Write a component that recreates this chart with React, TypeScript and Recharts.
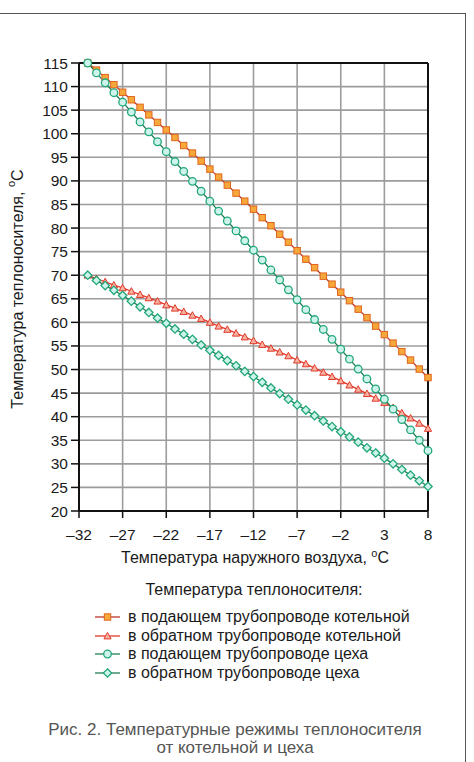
import React from 'react';
import { LineChart, Line, XAxis, YAxis, CartesianGrid, ReferenceLine, Legend } from 'recharts';

const outdoorTemps = [-31, -30, -29, -28, -27, -26, -25, -24, -23, -22, -21, -20, -19, -18, -17, -16, -15, -14, -13, -12, -11, -10, -9, -8, -7, -6, -5, -4, -3, -2, -1, 0, 1, 2, 3, 4, 5, 6, 7, 8];
const supplyBoiler = [115.0, 113.5, 111.9, 110.4, 108.8, 107.2, 105.6, 104.0, 102.4, 100.8, 99.2, 97.5, 95.9, 94.2, 92.5, 90.8, 89.1, 87.4, 85.7, 84.0, 82.2, 80.5, 78.7, 77.0, 75.2, 73.4, 71.6, 69.8, 68.1, 66.4, 64.6, 62.8, 61.0, 59.2, 57.4, 55.6, 53.8, 52.0, 50.1, 48.3];
const returnBoiler = [70.0, 69.3, 68.6, 67.9, 67.3, 66.6, 65.9, 65.2, 64.5, 63.7, 63.0, 62.3, 61.5, 60.8, 60.0, 59.2, 58.5, 57.7, 56.9, 56.1, 55.3, 54.5, 53.7, 52.9, 52.0, 51.2, 50.3, 49.4, 48.5, 47.6, 46.7, 45.8, 44.9, 43.9, 43.0, 41.9, 40.8, 39.7, 38.6, 37.5];
const supplyShop = [115.0, 112.9, 110.8, 108.7, 106.7, 104.6, 102.5, 100.4, 98.3, 96.2, 94.1, 92.0, 89.9, 87.8, 85.7, 83.6, 81.5, 79.4, 77.3, 75.3, 73.2, 71.1, 69.0, 66.9, 64.8, 62.7, 60.6, 58.5, 56.4, 54.3, 52.2, 50.1, 48.0, 45.9, 43.7, 41.6, 39.4, 37.2, 35.0, 32.8];
const returnShop = [70.0, 68.9, 67.8, 66.8, 65.7, 64.5, 63.3, 62.1, 60.9, 59.8, 58.6, 57.5, 56.4, 55.2, 54.1, 53.0, 51.9, 50.8, 49.6, 48.5, 47.3, 46.1, 44.9, 43.7, 42.5, 41.4, 40.2, 39.1, 37.9, 36.8, 35.7, 34.6, 33.4, 32.3, 31.2, 30.0, 28.8, 27.6, 26.4, 25.2];

const xTicks = [-32, -27, -22, -17, -12, -7, -2, 3, 8];
const yTicks = [20, 25, 30, 35, 40, 45, 50, 55, 60, 65, 70, 75, 80, 85, 90, 95, 100, 105, 110, 115];

const seriesNames = [
  'в подающем трубопроводе котельной',
  'в обратном трубопроводе котельной',
  'в подающем трубопроводе цеха',
  'в обратном трубопроводе цеха',
];
const xAxisTitle = 'Температура наружного воздуха, ';
const yAxisTitle = 'Температура теплоносителя, ';
const legendTitle = 'Температура теплоносителя:';
const captionLines = ['Рис. 2. Температурные режимы теплоносителя', 'от котельной и цеха'];

const data = outdoorTemps.map((t, i) => ({
  t,
  s1: supplyBoiler[i],
  s2: returnBoiler[i],
  s3: supplyShop[i],
  s4: returnShop[i],
}));

const FONT = '"Liberation Sans", Arial, Helvetica, sans-serif';

const C = {
  sqFill: '#f7a83a',
  sqStroke: '#e0641c',
  line1: '#b8352a',
  line2: '#e3392c',
  triFill: '#f7b0a0',
  triStroke: '#e03a2a',
  greenLine: '#1f7d55',
  greenStroke: '#22a878',
  greenFill: '#cdf3ec',
};

const LEGEND_H = 110;

const drawSquare = (cx: number, cy: number, key?: string) => (
  <rect key={key} x={cx - 3.2} y={cy - 3.2} width={6.4} height={6.4} fill={C.sqFill} stroke={C.sqStroke} strokeWidth={1} />
);
const drawTriangle = (cx: number, cy: number, key?: string) => (
  <path key={key} d={`M${cx},${cy - 3.6} L${cx + 3.6},${cy + 2.9} L${cx - 3.6},${cy + 2.9} Z`} fill={C.triFill} stroke={C.triStroke} strokeWidth={1} />
);
const drawCircle = (cx: number, cy: number, key?: string) => (
  <circle key={key} cx={cx} cy={cy} r={3.8} fill={C.greenFill} stroke={C.greenStroke} strokeWidth={1.3} />
);
const drawDiamond = (cx: number, cy: number, key?: string) => (
  <path key={key} d={`M${cx},${cy - 4.2} L${cx + 4.2},${cy} L${cx},${cy + 4.2} L${cx - 4.2},${cy} Z`} fill={C.greenFill} stroke={C.greenStroke} strokeWidth={1.3} />
);

const makeDot = (fn: (cx: number, cy: number, key?: string) => React.ReactElement, tag: string) => (props: any) => {
  const { cx, cy, index } = props;
  if (cx == null || cy == null) return <g key={`${tag}-${index}`} />;
  return fn(cx, cy, `${tag}-${index}`);
};

const markerFns = [drawSquare, drawTriangle, drawCircle, drawDiamond];
const lineColors = [C.line1, C.line2, C.greenLine, C.greenLine];

const fmtX = (v: number) => (v < 0 ? '\u2013' + Math.abs(v) : String(v));

const renderLegend = () => (
  <div style={{ position: 'relative', width: 474, height: LEGEND_H, fontFamily: FONT, fontSize: 16, color: '#1a1a1a' }}>
    <div style={{ position: 'absolute', left: 54, width: 400, top: 0, textAlign: 'center', lineHeight: '18px' }}>{legendTitle}</div>
    {seriesNames.map((name, i) => (
      <div key={name} style={{ position: 'absolute', left: 94, top: 27 + i * 18.7, height: 18, lineHeight: '18px', whiteSpace: 'nowrap', display: 'flex', alignItems: 'center' }}>
        <svg width={28} height={18} style={{ display: 'block' }}>
          <line x1={1} y1={9} x2={26} y2={9} stroke={lineColors[i]} strokeWidth={1.3} />
          {markerFns[i](13.5, 9)}
        </svg>
        <span style={{ marginLeft: 6 }}>{name}</span>
      </div>
    ))}
  </div>
);

const YTitle = () => (
  <text x={17} y={289} transform="rotate(-90, 17, 289)" textAnchor="middle" dominantBaseline="central" fontFamily={FONT} fontSize={16} fill="#1a1a1a">
    {yAxisTitle}
    <tspan fontSize={11} dy={-6}>o</tspan>
    <tspan dy={6}>C</tspan>
  </text>
);

const XTitle = () => (
  <text x={255} y={563} textAnchor="middle" fontFamily={FONT} fontSize={16} fill="#1a1a1a">
    {xAxisTitle}
    <tspan fontSize={11} dy={-6}>o</tspan>
    <tspan dy={6}>C</tspan>
  </text>
);

export default function App() {
  return (
    <div style={{ position: 'absolute', left: 0, top: 0, width: 474, height: 762, background: '#fff', overflow: 'hidden' }}>
      <div style={{ position: 'absolute', left: -2, top: 13, width: 467, height: 760, borderTop: '1.5px solid #555', borderRight: '1.5px solid #555' }} />
      <div style={{ position: 'absolute', left: 0, top: 0 }}>
        <LineChart width={474} height={762} data={data} margin={{ top: 63, right: 46, bottom: 221 - LEGEND_H, left: 0 }}>
          <CartesianGrid stroke="#9c9c9c" strokeWidth={1.6} />
          <XAxis
            dataKey="t"
            type="number"
            domain={[-32, 8]}
            ticks={xTicks}
            tickFormatter={fmtX}
            height={30}
            axisLine={{ stroke: '#111', strokeWidth: 2 }}
            tickLine={{ stroke: '#111', strokeWidth: 1.5 }}
            tickSize={7}
            tickMargin={11}
            tick={{ fontFamily: FONT, fontSize: 15.5, fill: '#1a1a1a' }}
            interval={0}
            label={{ content: () => <XTitle /> }}
          />
          <YAxis
            type="number"
            domain={[20, 115]}
            ticks={yTicks}
            width={79}
            axisLine={{ stroke: '#111', strokeWidth: 2 }}
            tickLine={{ stroke: '#111', strokeWidth: 1.5 }}
            tickSize={8}
            tickMargin={3}
            tick={{ fontFamily: FONT, fontSize: 15.5, fill: '#1a1a1a' }}
            interval={0}
            label={{ content: () => <YTitle /> }}
          />
          <ReferenceLine y={115} stroke="#111" strokeWidth={2} />
          <ReferenceLine x={8} stroke="#111" strokeWidth={2} />
          <Line dataKey="s1" name={seriesNames[0]} stroke={C.line1} strokeWidth={1.3} dot={makeDot(drawSquare, 'sq')} isAnimationActive={false} />
          <Line dataKey="s2" name={seriesNames[1]} stroke={C.line2} strokeWidth={1.3} dot={makeDot(drawTriangle, 'tr')} isAnimationActive={false} />
          <Line dataKey="s3" name={seriesNames[2]} stroke={C.greenLine} strokeWidth={1.3} dot={makeDot(drawCircle, 'ci')} isAnimationActive={false} />
          <Line dataKey="s4" name={seriesNames[3]} stroke={C.greenLine} strokeWidth={1.3} dot={makeDot(drawDiamond, 'di')} isAnimationActive={false} />
          <Legend content={renderLegend} wrapperStyle={{ position: 'absolute', left: 0, top: 581, width: 474, height: LEGEND_H }} />
        </LineChart>
      </div>
      <div style={{ position: 'absolute', left: 0, top: 721, width: 470, textAlign: 'center', fontFamily: FONT, fontSize: 17, color: '#555', lineHeight: '18px' }}>
        {captionLines.map((l) => (
          <div key={l}>{l}</div>
        ))}
      </div>
    </div>
  );
}
